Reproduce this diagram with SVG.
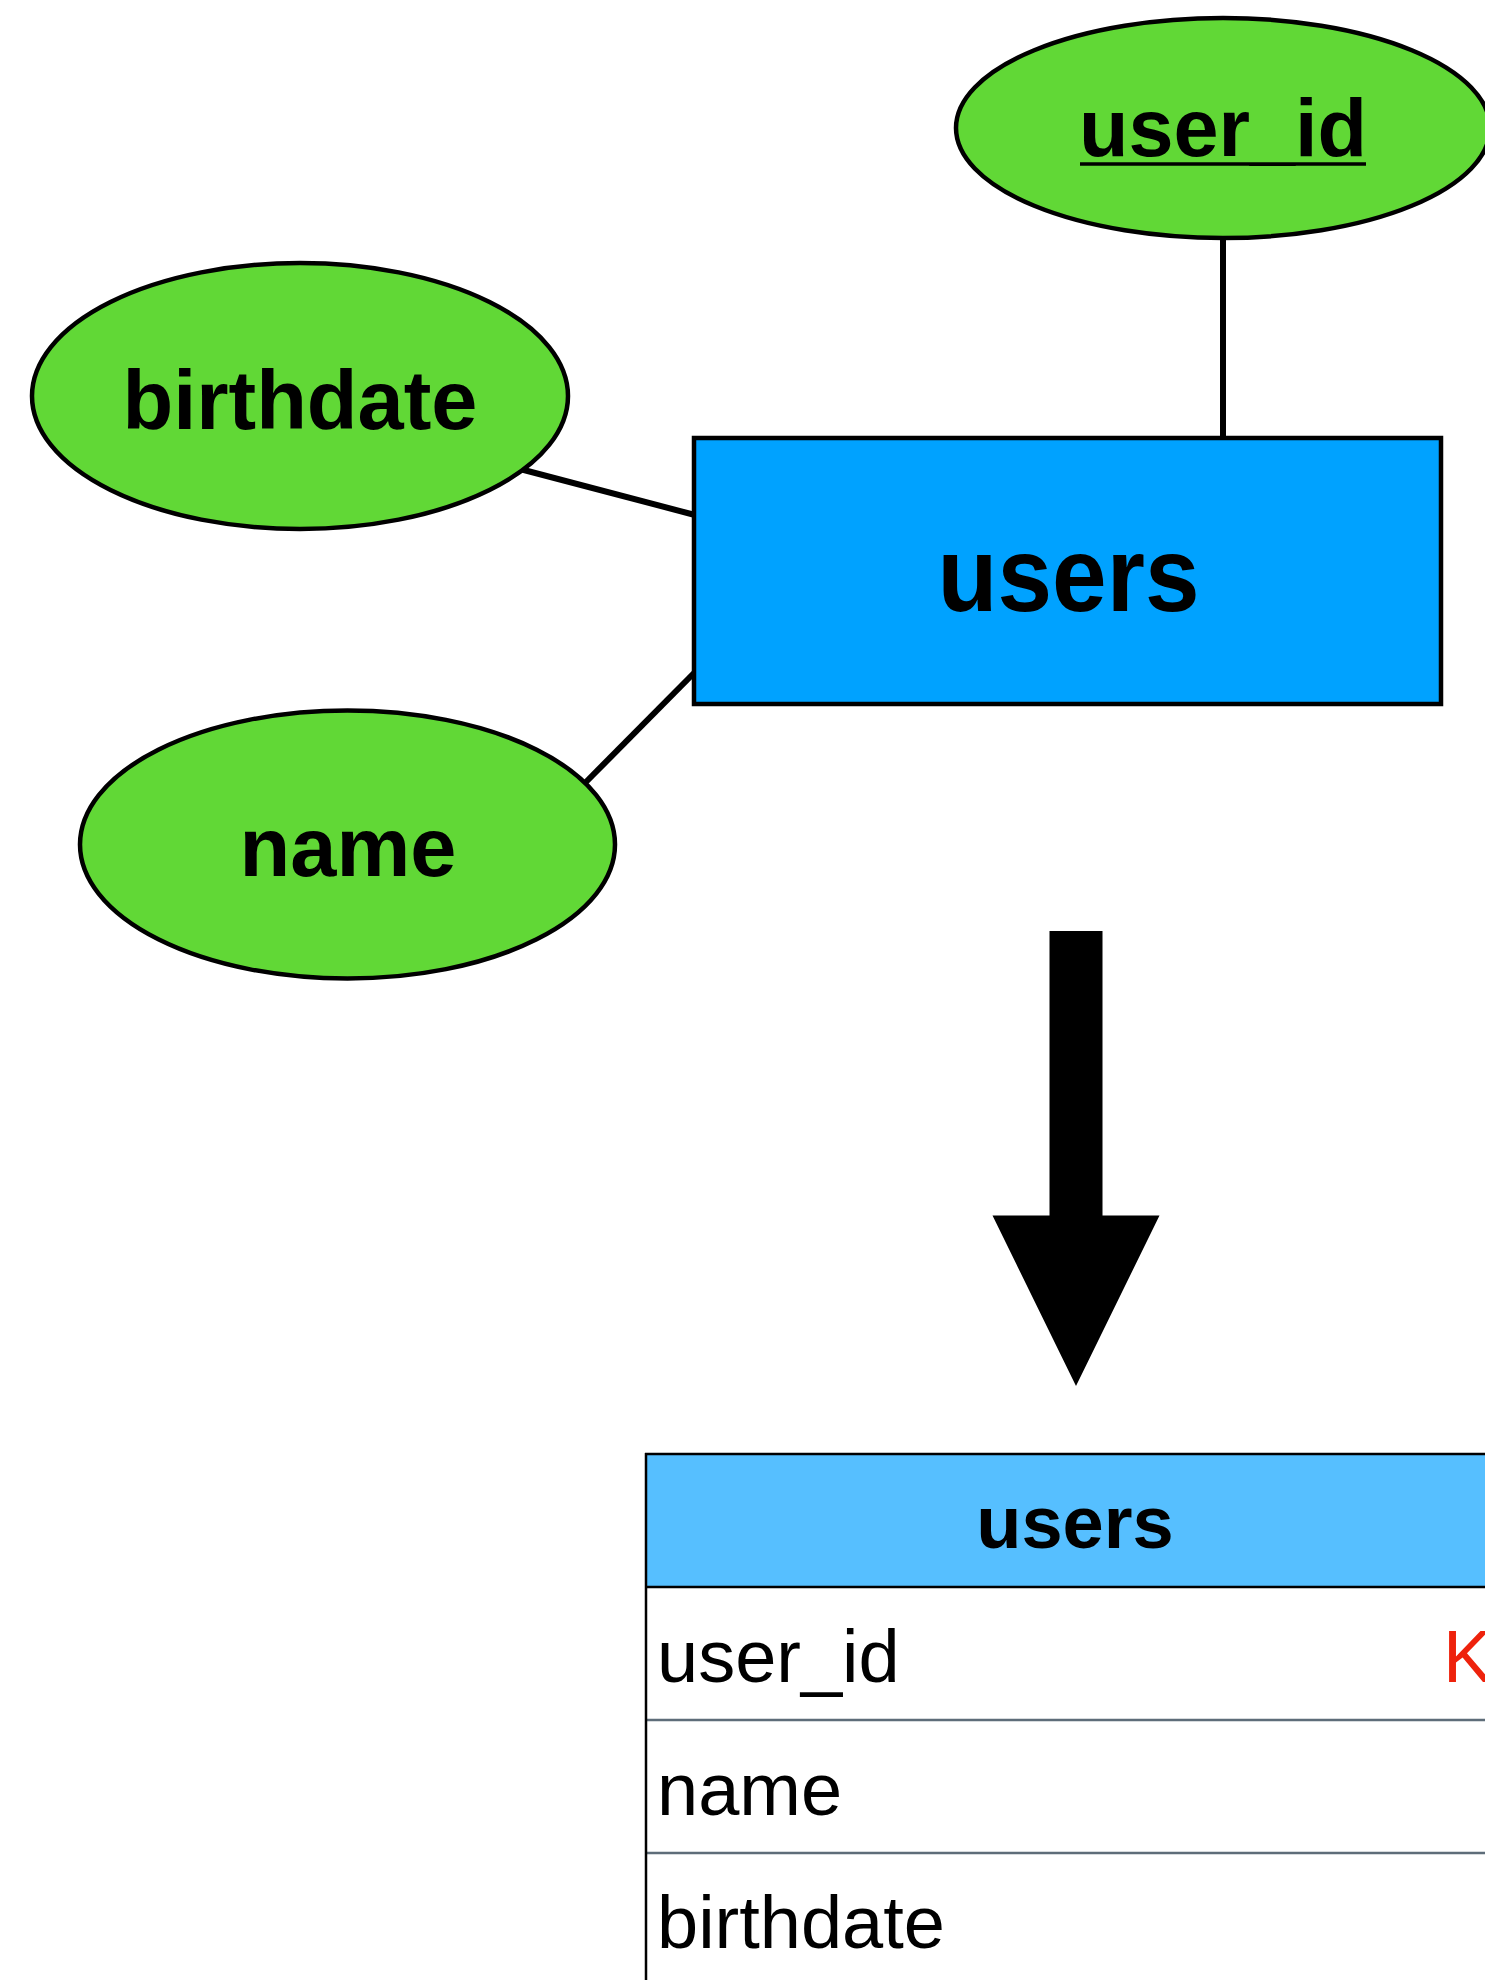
<svg xmlns="http://www.w3.org/2000/svg" width="1485" height="1980" viewBox="0 0 1485 1980">
<style>
.attr{fill:#61D836;stroke:#000;stroke-width:4.5}
.attrt{font-family:"Liberation Sans",Arial,sans-serif;font-weight:bold;font-size:83px;fill:#000;text-anchor:middle}
.conn{stroke:#000;stroke-width:6;fill:none}
.row{font-family:"Liberation Sans",Arial,sans-serif;font-size:74px;fill:#000}
.sep{stroke:#5E6D79;stroke-width:2.5}
</style>
<rect width="1485" height="1980" fill="#fff"/>
<g id="connectors">
<line class="conn" x1="1223" y1="236" x2="1223" y2="438"/>
<line class="conn" x1="520" y1="469" x2="695" y2="515"/>
<line class="conn" x1="583" y1="785" x2="695" y2="672"/>
</g>
<g id="user_id">
<ellipse class="attr" cx="1223" cy="128" rx="267" ry="110"/>
<text class="attrt" x="1223" y="156" style="font-size:81px">user_id</text>
<line x1="1080" y1="164" x2="1366" y2="164" stroke="#000" stroke-width="3.5"/>
</g>
<g id="birthdate">
<ellipse class="attr" cx="300" cy="396" rx="268" ry="133"/>
<text class="attrt" x="300" y="429">birthdate</text>
</g>
<g id="name">
<ellipse class="attr" cx="347.5" cy="844.5" rx="267.5" ry="134"/>
<text class="attrt" x="348" y="876">name</text>
</g>
<g id="users_entity">
<rect x="694" y="438" width="747" height="266" fill="#00A2FF" stroke="#000" stroke-width="4.5"/>
<text x="1068.5" y="610.5" font-family="Liberation Sans,Arial,sans-serif" font-weight="bold" font-size="106" text-anchor="middle" textLength="262" lengthAdjust="spacingAndGlyphs">users</text>
</g>
<g id="transform_arrow">
<polygon points="1049.5,931 1102.5,931 1102.5,1215.5 1159.5,1215.5 1076,1386 992.5,1215.5 1049.5,1215.5" fill="#000"/>
</g>
<g id="users_table">
<rect x="647" y="1454" width="870" height="133" fill="#56BFFF"/>
<rect x="647" y="1587" width="870" height="400" fill="#fff"/>
<line class="sep" x1="647" y1="1720" x2="1490" y2="1720"/>
<line class="sep" x1="647" y1="1853" x2="1490" y2="1853"/>
<line x1="645" y1="1454" x2="1490" y2="1454" stroke="#000" stroke-width="2.5"/>
<line x1="645" y1="1587" x2="1490" y2="1587" stroke="#000" stroke-width="2.5"/>
<line x1="646" y1="1453" x2="646" y2="1985" stroke="#000" stroke-width="2.5"/>
<text x="1075" y="1548" font-family="Liberation Sans,Arial,sans-serif" font-weight="bold" font-size="74" text-anchor="middle">users</text>
<text class="row" x="657" y="1682">user_id</text>
<text class="row" x="1443" y="1682" style="fill:#EE220C">K</text>
<text class="row" x="657" y="1815">name</text>
<text class="row" x="657" y="1948">birthdate</text>
</g>
</svg>
